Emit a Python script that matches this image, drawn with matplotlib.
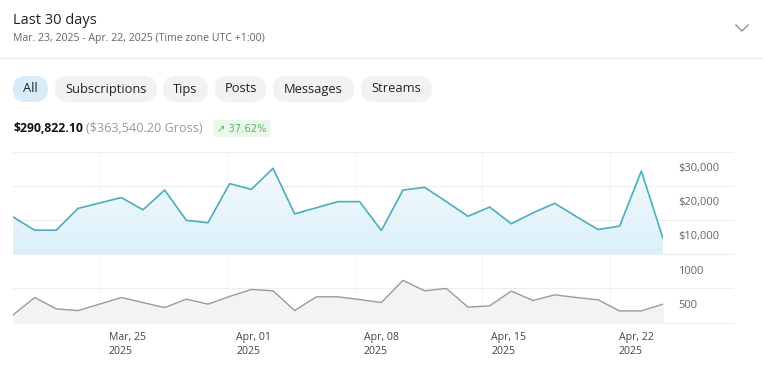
import numpy as np
import matplotlib
matplotlib.use("Agg")
import matplotlib.pyplot as plt
from matplotlib.patches import FancyBboxPatch
from matplotlib.transforms import ScaledTranslation

# daily values, Mar 23 .. Apr 22, 2025
days = list(range(31))
earnings = [10900, 7000, 7000, 13400, 15000, 16600, 13000, 18800, 9900, 9200,
            20700, 19000, 25200, 11800, 13600, 15400, 15400, 6900, 18800, 19600,
            15400, 11100, 13800, 8900, 12100, 14900, 11000, 7200, 8200, 24400, 4600]
counts = [110, 365, 199, 174, 269, 365, 291, 218, 341, 268,
          381, 482, 463, 174, 375, 375, 335, 291, 615, 463,
          497, 224, 243, 459, 321, 404, 365, 331, 169, 169, 268]

money_ticks = [10000, 20000, 30000]
money_labels = ["$10,000", "$20,000", "$30,000"]
count_ticks = [500, 1000]
count_labels = ["500", "1000"]
date_labels = ["Mar, 25\n2025", "Apr, 01\n2025", "Apr, 08\n2025", "Apr, 15\n2025", "Apr, 22\n2025"]
filters = ["All", "Subscriptions", "Tips", "Posts", "Messages", "Streams"]

W, H = 763, 383
FONT = ["Open Sans", "DejaVu Sans"]
plt.rcParams["font.family"] = FONT

fig = plt.figure(figsize=(W / 100, H / 100), dpi=100)
fig.patch.set_facecolor("white")

# full-figure overlay in pixel units for header / pills
bg = fig.add_axes([0, 0, 1, 1], zorder=0)
bg.set_xlim(0, W)
bg.set_ylim(H, 0)
bg.axis("off")

bg.text(13, 20, "Last 30 days", fontsize=10.5, color="#222222", va="center")
bg.text(13, 38, "Mar. 23, 2025 - Apr. 22, 2025 (Time zone UTC +1:00)",
        fontsize=7.6, color="#666666", va="center")
bg.plot([736, 742, 748], [25, 31, 25], color="#999999", lw=1.1)
bg.axhline(58, color="#eeeeee", lw=1)

# filter pills
pill_x = [(13, 48), (55, 157), (163, 208), (215, 266), (273, 354), (361, 432)]
for i, (name, (x0, x1)) in enumerate(zip(filters, pill_x)):
    face = "#d9ebf8" if i == 0 else "#f1f2f4"
    bg.add_patch(FancyBboxPatch((x0, 76), x1 - x0, 26,
                                boxstyle="round,pad=0,rounding_size=13",
                                facecolor=face, edgecolor="none"))
    bg.text((x0 + x1) / 2, 89, name, fontsize=9.3, color="#222222",
            ha="center", va="center")

# totals row
bg.text(13, 129, "$290,822.10", fontsize=8.8, fontweight="bold", color="#111111", va="center")
bg.text(86, 129, "($363,540.20 Gross)", fontsize=9.1, color="#9a9a9a", va="center")
bg.add_patch(FancyBboxPatch((213, 120), 57, 17, boxstyle="round,pad=0,rounding_size=3",
                            facecolor="#eaf7ea", edgecolor="none"))
bg.text(241.5, 129, "\u2197 37.62%", fontsize=7.2, color="#5cb85c", ha="center", va="center",
        family=["DejaVu Sans"])


def px_axes(x0, y0, x1, y1):
    return fig.add_axes([x0 / W, 1 - y1 / H, (x1 - x0) / W, (y1 - y0) / H], zorder=2)


ax1 = px_axes(13, 152, 663, 254)
ax2 = px_axes(13, 254, 663, 322.5)

grid_ext = (733 - 13) / (663 - 13)
week_pos = 4.0 + np.arange(5) * 5.885

for ax in (ax1, ax2):
    ax.set_facecolor("none")
    ax.set_xlim(0, 30)
    for s in ax.spines.values():
        s.set_visible(False)
    for x in week_pos:
        ax.axvline(x, color="#f6f6f6", lw=0.8, zorder=0)

# revenue chart
ax1.set_ylim(0, 30000)
for v in [0] + money_ticks:
    ax1.axhline(v, xmax=grid_ext, color="#eeeeee", lw=0.8, clip_on=False, zorder=0)
poly = ax1.fill_between(days, earnings, 0, color="none")
grad = np.linspace(0, 1, 100).reshape(-1, 1)
img = ax1.imshow(grad, extent=[0, 30, 0, 30000], aspect="auto", origin="lower",
                 cmap=matplotlib.colors.LinearSegmentedColormap.from_list(
                     "g", ["#dcf0f9", "#f7fcfe"]), zorder=1)
img.set_clip_path(poly.get_paths()[0], transform=ax1.transData)
ax1.plot(days, earnings, color="#4aaebd", lw=1.2, zorder=3)
ax1.yaxis.tick_right()
ax1.set_yticks(money_ticks, money_labels)
ax1.set_xticks([])

# count chart
ax2.set_ylim(0, 1000)
for v in [0] + count_ticks:
    ax2.axhline(v, xmax=grid_ext, color="#eeeeee", lw=0.8, clip_on=False, zorder=0)
ax2.fill_between(days, counts, 0, color="#f2f3f5", zorder=1)
ax2.plot(days, counts, color="#9b9b9b", lw=1.0, zorder=3)
ax2.yaxis.tick_right()
ax2.set_yticks(count_ticks, count_labels)
ax2.set_xticks(week_pos, date_labels)

for ax in (ax1, ax2):
    ax.tick_params(axis="y", length=0, pad=11, labelsize=8, labelcolor="#666666")
    for lab in ax.get_yticklabels():
        lab.set_horizontalalignment("left")
        lab.set_transform(lab.get_transform() + ScaledTranslation(0, -0.155, fig.dpi_scale_trans))

ax2.tick_params(axis="x", length=0, pad=7, labelsize=7.6, labelcolor="#444444")
for lab in ax2.get_xticklabels():
    lab.set_horizontalalignment("left")
    lab.set_linespacing(1.35)
    lab.set_transform(lab.get_transform() + ScaledTranslation(0.09, 0, fig.dpi_scale_trans))

fig.savefig("out.png", dpi=100)
